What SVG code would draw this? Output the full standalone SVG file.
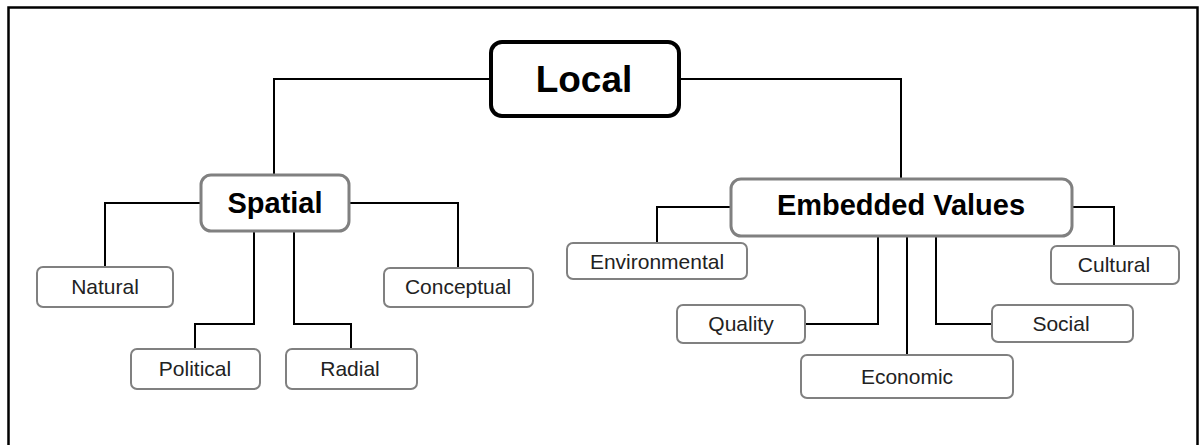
<svg xmlns="http://www.w3.org/2000/svg" width="1199" height="445" viewBox="0 0 1199 445">
<style>
.frame{fill:none;stroke:#000;stroke-width:2.5}
.conn{fill:none;stroke:#000;stroke-width:2}
.root{fill:#fff;stroke:#000;stroke-width:4}
.mid{fill:#fff;stroke:#808080;stroke-width:3}
.leaf{fill:#fff;stroke:#808080;stroke-width:2}
.tb{font-family:"Liberation Sans",Arial,sans-serif;font-weight:bold;fill:#000;text-anchor:middle}
.tl{font-family:"Liberation Sans",Arial,sans-serif;font-size:21px;fill:#222;text-anchor:middle}
</style>
<rect x="0" y="0" width="1199" height="445" fill="#fff"/>
<rect class="frame" x="8.5" y="7.5" width="1189" height="460"/>
<g id="connectors">
<polyline class="conn" points="490,79 274,79 274,174"/>
<polyline class="conn" points="680,79 901,79 901,178"/>
<polyline class="conn" points="200,203 105,203 105,266"/>
<polyline class="conn" points="350,203 458,203 458,267"/>
<polyline class="conn" points="254,232 254,324 195,324 195,348"/>
<polyline class="conn" points="294,232 294,324 351,324 351,348"/>
<polyline class="conn" points="730,207 657,207 657,243"/>
<polyline class="conn" points="1073,207 1114,207 1114,246"/>
<polyline class="conn" points="878,237 878,324 805,324"/>
<polyline class="conn" points="907,237 907,354"/>
<polyline class="conn" points="936,237 936,324 992,324"/>
</g>
<g id="local">
<rect class="root" x="491" y="42" width="188" height="74" rx="11"/>
<text class="tb" x="584" y="92" font-size="37">Local</text>
</g>
<g id="spatial">
<rect class="mid" x="201" y="175" width="148" height="56" rx="10"/>
<text class="tb" x="275" y="213" font-size="29">Spatial</text>
</g>
<g id="embedded">
<rect class="mid" x="731" y="179" width="341" height="57" rx="10"/>
<text class="tb" x="901" y="215" font-size="29">Embedded Values</text>
</g>
<g id="natural">
<rect class="leaf" x="37" y="267" width="136" height="40" rx="6"/>
<text class="tl" x="105" y="294">Natural</text>
</g>
<g id="conceptual">
<rect class="leaf" x="384" y="268" width="149" height="39" rx="6"/>
<text class="tl" x="458" y="294">Conceptual</text>
</g>
<g id="political">
<rect class="leaf" x="131" y="349" width="129" height="40" rx="6"/>
<text class="tl" x="195" y="376">Political</text>
</g>
<g id="radial">
<rect class="leaf" x="286" y="349" width="131" height="40" rx="6"/>
<text class="tl" x="350" y="376">Radial</text>
</g>
<g id="environmental">
<rect class="leaf" x="567" y="243" width="180" height="36" rx="6"/>
<text class="tl" x="657" y="269">Environmental</text>
</g>
<g id="cultural">
<rect class="leaf" x="1051" y="246" width="128" height="38" rx="6"/>
<text class="tl" x="1114" y="272">Cultural</text>
</g>
<g id="quality">
<rect class="leaf" x="677" y="305" width="128" height="38" rx="6"/>
<text class="tl" x="741" y="331">Quality</text>
</g>
<g id="economic">
<rect class="leaf" x="801" y="355" width="212" height="43" rx="6"/>
<text class="tl" x="907" y="384">Economic</text>
</g>
<g id="social">
<rect class="leaf" x="992" y="305" width="141" height="37" rx="6"/>
<text class="tl" x="1061" y="331">Social</text>
</g>
</svg>
